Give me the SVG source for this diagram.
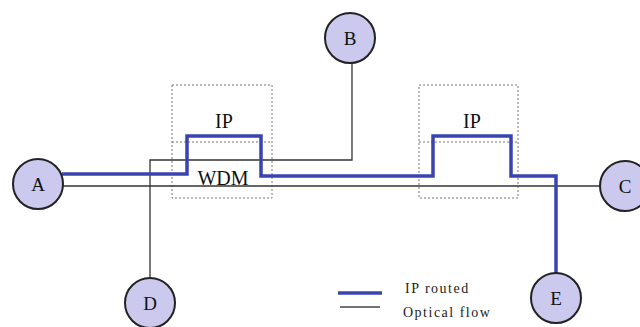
<svg xmlns="http://www.w3.org/2000/svg" width="640" height="327" viewBox="0 0 640 327">
<style>
.box{fill:none;stroke:#777;stroke-width:1;stroke-dasharray:2 2}
.opt{fill:none;stroke:#333;stroke-width:1.3}
.ip{fill:none;stroke:#3a44b0;stroke-width:3.5}
.node circle{fill:#cbc9ee;stroke:#222;stroke-width:2}
.lbl{font-family:"Liberation Serif",serif;font-size:20px;fill:#111;text-anchor:middle}
.nl{font-family:"Liberation Serif",serif;font-size:19px;fill:#111;text-anchor:middle}
.leg{font-family:"Liberation Serif",serif;font-size:14px;fill:#222;letter-spacing:1.5px}
</style>
<rect width="640" height="327" fill="#fff"/>
<g id="ip-box-left">
<rect class="box" x="172" y="85" width="100" height="113"/>
<line class="box" x1="172" y1="142" x2="272" y2="142"/>
<text class="lbl" x="224" y="128">IP</text>
<text class="lbl" x="223" y="185">WDM</text>
</g>
<g id="ip-box-right">
<rect class="box" x="419" y="85" width="99" height="113"/>
<line class="box" x1="419" y1="142" x2="518" y2="142"/>
<text class="lbl" x="472" y="128">IP</text>
</g>
<g id="connectors">
<line class="opt" x1="62" y1="186" x2="600" y2="186"/>
<polyline class="opt" points="150,278 150,160 352,160 352,63"/>
<polyline class="ip" points="62,174 187,174 187,136 261,136 261,176 433,176 433,136 511,136 511,176 556,176 556,273"/>
</g>
<g id="node-A" class="node"><circle cx="38" cy="184" r="25"/><text class="nl" x="38" y="191">A</text></g>
<g id="node-B" class="node"><circle cx="350" cy="38" r="25"/><text class="nl" x="350" y="45">B</text></g>
<g id="node-C" class="node"><circle cx="625" cy="186" r="25"/><text class="nl" x="625" y="193">C</text></g>
<g id="node-D" class="node"><circle cx="150" cy="303" r="25"/><text class="nl" x="150" y="310">D</text></g>
<g id="node-E" class="node"><circle cx="556" cy="298" r="25"/><text class="nl" x="556" y="305">E</text></g>
<g id="legend">
<line class="ip" x1="338" y1="293" x2="382" y2="293"/>
<line x1="340" y1="307" x2="380" y2="307" stroke="#444" stroke-width="1.5"/>
<text class="leg" x="405" y="293">IP routed</text>
<text class="leg" x="403" y="317">Optical flow</text>
</g>
</svg>
